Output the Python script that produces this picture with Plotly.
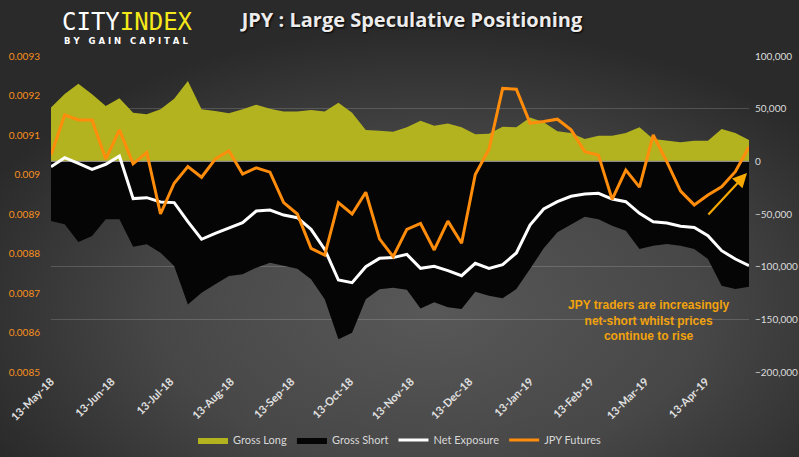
import base64
import pandas as pd
import plotly.graph_objects as go

# ---- data (weekly) ----
start_date = "2018-05-13"
n_weeks = 52
dates = pd.date_range(start_date, periods=n_weeks, freq="7D")

gross_long = [51000, 64000, 73700, 63600, 52500, 59800, 46200, 44600, 49400, 59500,
              76300, 49400, 47800, 45600, 49400, 53800, 50000, 47200, 47200, 48700,
              47200, 55700, 46200, 29800, 29100, 28200, 32300, 38600, 33900, 36000,
              32300, 25600, 26300, 32900, 32300, 41500, 37000, 28500, 26900, 21200,
              24400, 24400, 26900, 32300, 21200, 19600, 18000, 19600, 19600, 30700,
              26900, 20300]

gross_short = [-56700, -59800, -76600, -70900, -55100, -55100, -81000, -78800, -86700, -99400,
               -135800, -124700, -116800, -108900, -107300, -101000, -96200, -99400, -101900, -112000,
               -131000, -169000, -162700, -131000, -121500, -120000, -121900, -139600, -133900, -138600,
               -140200, -123800, -127500, -130000, -121200, -102200, -82600, -67400, -60100, -52500,
               -55100, -61100, -65800, -83200, -80100, -78500, -80100, -83200, -92700, -118000,
               -121200, -119000]

net_exposure = [-5100, 3500, -1900, -7600, -2800, 5100, -35400, -34500, -38600, -39200,
                -57300, -74000, -68400, -63000, -58200, -47200, -46200, -51000, -53500, -64600,
                -83600, -112700, -115200, -100000, -92100, -91400, -88300, -101600, -99700, -103800,
                -108600, -96800, -101600, -98100, -87000, -60500, -45300, -38300, -33200, -31000,
                -30400, -35800, -38300, -49400, -57300, -58600, -61700, -62700, -70600, -84800,
                -92700, -99000]

jpy_futures = [0.009049, 0.009151, 0.009138, 0.009138, 0.009039, 0.009113, 0.009027, 0.009056, 0.008900, 0.008978,
               0.009020, 0.008993, 0.009039, 0.009060, 0.009001, 0.009017, 0.009006, 0.008929, 0.008900, 0.008813,
               0.008796, 0.008929, 0.008900, 0.008955, 0.008837, 0.008792, 0.008861, 0.008876, 0.008809, 0.008882,
               0.008826, 0.009000, 0.009064, 0.009218, 0.009216, 0.009130, 0.009134, 0.009140, 0.009113, 0.009058,
               0.009049, 0.008937, 0.009011, 0.008968, 0.009100, 0.009032, 0.008958, 0.008923, 0.008948, 0.008969,
               0.009007, 0.009070]

price_range = [0.0085, 0.0093]
position_range = [-200000, 100000]

title_text = "JPY : Large Speculative Positioning"
note_text = "JPY traders are increasingly<br>net-short whilst prices<br>continue to rise"

# ---- layout geometry ----
W, H = 799, 457
ML, MR, MT, MB = 51, 50, 56, 85
PW, PH = W - ML - MR, H - MT - MB

bg_svg = (
    "<svg xmlns='http://www.w3.org/2000/svg' width='799' height='457'>"
    "<defs><radialGradient id='g' cx='0.54' cy='0.68' r='0.62'>"
    "<stop offset='0' stop-color='#585858'/>"
    "<stop offset='0.55' stop-color='#474747'/>"
    "<stop offset='1' stop-color='#2a2a2a'/>"
    "</radialGradient></defs>"
    "<rect width='799' height='457' fill='url(#g)'/></svg>"
)
bg_uri = "data:image/svg+xml;base64," + base64.b64encode(bg_svg.encode()).decode()

fig = go.Figure()

fig.add_trace(go.Scatter(
    x=dates, y=gross_long, name="Gross Long", mode="lines",
    line=dict(width=0, color="#b3b31f"), fill="tozeroy", fillcolor="#b3b31f",
    yaxis="y", hoverinfo="skip"))
fig.add_trace(go.Scatter(
    x=dates, y=gross_short, name="Gross Short", mode="lines",
    line=dict(width=0, color="#050505"), fill="tozeroy", fillcolor="#050505",
    yaxis="y", hoverinfo="skip"))
fig.add_trace(go.Scatter(
    x=[dates[0], dates[-1]], y=[0, 0], mode="lines", showlegend=False,
    line=dict(width=1.2, color="#8a8a8a"), yaxis="y", hoverinfo="skip"))
fig.add_trace(go.Scatter(
    x=dates, y=net_exposure, name="Net Exposure", mode="lines",
    line=dict(width=3, color="#ffffff"), yaxis="y"))
fig.add_trace(go.Scatter(
    x=dates, y=jpy_futures, name="JPY Futures", mode="lines",
    line=dict(width=3, color="#ff8c0a"), yaxis="y2"))

fig.update_layout(
    width=W, height=H,
    margin=dict(l=ML, r=MR, t=MT, b=MB, pad=0, autoexpand=False),
    paper_bgcolor="#3a3a3a",
    plot_bgcolor="rgba(0,0,0,0)",
    showlegend=True,
    title=dict(text="<b>" + title_text + "</b>", x=412 / W, xref="container", xanchor="center",
               y=1 - 20 / H, yref="container", yanchor="middle",
               font=dict(family="Open Sans, sans-serif", size=20, color="#ececec",
                         shadow="1px 1px 2px #000000")),
    xaxis=dict(
        type="date", range=[dates[0], dates[-1]], automargin=False,
        tick0="2018-05-13", dtick="M1", tickformat="%d-%b-%y", tickangle=-45,
        showgrid=False, zeroline=False, showline=False, ticks="",
        tickfont=dict(family="Lato, Open Sans, sans-serif", size=11, color="#e0e0e0", weight="bold"),
    ),
    yaxis=dict(
        range=position_range, dtick=50000, tickformat=",d", side="right", automargin=False,
        showgrid=True, gridcolor="rgba(255,255,255,0.16)", gridwidth=1,
        zeroline=False, showline=False, ticks="",
        tickfont=dict(family="Lato, Open Sans, sans-serif", size=10, color="#dcdcdc"),
        ticklabelstandoff=5,
    ),
    yaxis2=dict(
        range=price_range, dtick=0.0001, side="left", overlaying="y", automargin=False,
        showgrid=False, zeroline=False, showline=False, ticks="",
        tickfont=dict(family="Lato, Open Sans, sans-serif", size=10, color="#f7901e"),
        ticklabelstandoff=10,
    ),
    legend=dict(
        orientation="h", x=(400 - ML) / PW, xanchor="center",
        y=-(440 - (H - MB)) / PH, yanchor="middle",
        font=dict(family="Lato, Open Sans, sans-serif", size=11, color="#d8d8d8"),
        bgcolor="rgba(0,0,0,0)", itemwidth=30, tracegroupgap=0,
    ),
    images=[dict(source=bg_uri, xref="paper", yref="paper",
                 x=-ML / PW, y=1 + MT / PH, sizex=W / PW, sizey=H / PH,
                 xanchor="left", yanchor="top", sizing="stretch", layer="below")],
    annotations=[
        dict(text="<span style='color:#ffffff'>CITY</span><span style='color:#f5e81a'>INDEX</span>",
             xref="paper", yref="paper", x=(60 - ML) / PW, y=1 + (MT - 22) / PH,
             xanchor="left", yanchor="middle", showarrow=False,
             font=dict(family="DejaVu Sans Mono, monospace", size=24, color="#ffffff")),
        dict(text="B Y   G A I N   C A P I T A L",
             xref="paper", yref="paper", x=(62 - ML) / PW, y=1 + (MT - 41) / PH,
             xanchor="left", yanchor="middle", showarrow=False,
             font=dict(family="DejaVu Sans, sans-serif", size=8.5, color="#ffffff", weight="bold")),
        dict(text="<b>" + note_text + "</b>",
             xref="paper", yref="paper", x=(649 - ML) / PW, y=(H - MB - 320) / PH,
             xanchor="center", yanchor="middle", showarrow=False, align="center",
             font=dict(family="Liberation Sans, Arial, sans-serif", size=12, color="#f2a20c")),
        dict(text="", xref="paper", yref="paper",
             x=(747 - ML) / PW, y=(H - MB - 173) / PH,
             ax=-40, ay=43, showarrow=True, arrowhead=2, arrowsize=1.3,
             arrowwidth=2.2, arrowcolor="#f5a800"),
    ],
)

fig.write_html("out.html",
               config={"displayModeBar": False},
               post_script="document.body.style.margin='0';document.body.style.overflow='hidden';")
